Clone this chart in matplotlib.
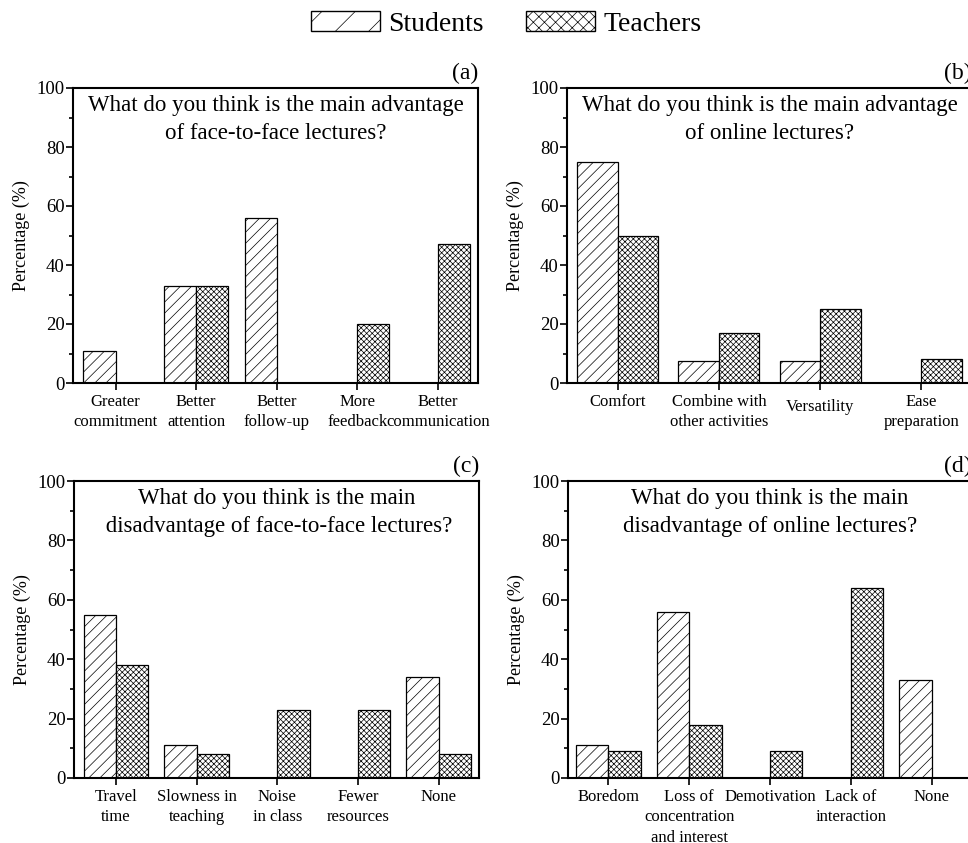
import matplotlib
matplotlib.use("Agg")
import matplotlib.pyplot as plt
from matplotlib.patches import Patch
from matplotlib.transforms import ScaledTranslation
import numpy as np

plt.rcParams['font.family'] = ['Liberation Serif', 'DejaVu Serif']
plt.rcParams['hatch.linewidth'] = 0.5
plt.rcParams['axes.linewidth'] = 1.5

# Survey results (percent of respondents)
cats_a = ["Greater\ncommitment", "Better\nattention", "Better\nfollow-up", "More\nfeedback", "Better\ncommunication"]
students_a = [11, 33, 56, 0, 0]
teachers_a = [0, 33, 0, 20, 47]

cats_b = ["Comfort", "Combine with\nother activities", "Versatility", "Ease\npreparation"]
students_b = [75, 7.5, 7.5, 0]
teachers_b = [50, 17, 25, 8]

cats_c = ["Travel\ntime", "Slowness in\nteaching", "Noise\nin class", "Fewer\nresources", "None"]
students_c = [55, 11, 0, 0, 34]
teachers_c = [38, 8, 23, 23, 8]

cats_d = ["Boredom", "Loss of\nconcentration\nand interest", "Demotivation", "Lack of\ninteraction", "None"]
students_d = [11, 56, 0, 0, 33]
teachers_d = [9, 18, 9, 64, 0]

titles = [
    "What do you think is the main advantage\nof face-to-face lectures?",
    "What do you think is the main advantage\nof online lectures?",
    "What do you think is the main\n disadvantage of face-to-face lectures?",
    "What do you think is the main\ndisadvantage of online lectures?",
]
letters = ["(a)", "(b)", "(c)", "(d)"]

W, H = 968, 843
fig = plt.figure(figsize=(W / 100, H / 100), dpi=100)


def px_axes(left, right, top, bottom):
    return fig.add_axes([left / W, 1 - bottom / H, (right - left) / W, (bottom - top) / H])


panels = [
    (px_axes(73, 478, 88, 383), cats_a, students_a, teachers_a, (0.47, 5.5)),
    (px_axes(567, 972, 88, 383), cats_b, students_b, teachers_b, (0.5, 4.5)),
    (px_axes(74, 479, 481, 778), cats_c, students_c, teachers_c, (0.48, 5.5)),
    (px_axes(568, 972, 481, 778), cats_d, students_d, teachers_d, (0.5, 5.5)),
]

bw = 0.4
s_hatch = "///"
t_hatch = "xxxxxx"

for i, (ax, cats, s, t, xl) in enumerate(panels):
    x = np.arange(1, len(cats) + 1)
    ax.bar(x - bw / 2, s, bw, facecolor="white", edgecolor="black", hatch=s_hatch, linewidth=0.9)
    ax.bar(x + bw / 2, t, bw, facecolor="white", edgecolor="black", hatch=t_hatch, linewidth=0.9)
    ax.set_xlim(*xl)
    ax.set_ylim(0, 100)
    ax.set_xticks(x)
    ax.set_xticklabels(cats, fontsize=12, linespacing=1.35)
    ax.set_yticks([0, 20, 40, 60, 80, 100])
    ax.set_yticks([10, 30, 50, 70, 90], minor=True)
    ax.tick_params(axis="y", which="major", labelsize=13.5, length=5, width=1.2, pad=1)
    ax.tick_params(axis="y", which="minor", length=3, width=1.2)
    ax.tick_params(axis="x", which="major", length=5, width=1.2, pad=3)
    ax.set_ylabel("Percentage (%)", fontsize=13, labelpad=5)
    ax.text(0.5, 0.975, titles[i], transform=ax.transAxes, ha="center", va="top",
            fontsize=16.5, linespacing=1.42)
    ax.text(1.0, 1.015, letters[i], transform=ax.transAxes, ha="right", va="bottom", fontsize=17)

# "Versatility" sits a little lower than its neighbours
vlab = panels[1][0].get_xticklabels()[2]
vlab.set_transform(vlab.get_transform() + ScaledTranslation(0, -5 / 100, fig.dpi_scale_trans))

handles = [
    Patch(facecolor="white", edgecolor="black", hatch="/", linewidth=1.0, label="Students"),
    Patch(facecolor="white", edgecolor="black", hatch="xxx", linewidth=1.0, label="Teachers"),
]
fig.legend(handles=handles, loc="center", bbox_to_anchor=(506 / W, 1 - 24 / H), ncol=2,
           frameon=False, fontsize=20, handlelength=2.5, handleheight=0.75,
           handletextpad=0.3, columnspacing=1.5, borderaxespad=0)

fig.savefig("out.png", dpi=100)
